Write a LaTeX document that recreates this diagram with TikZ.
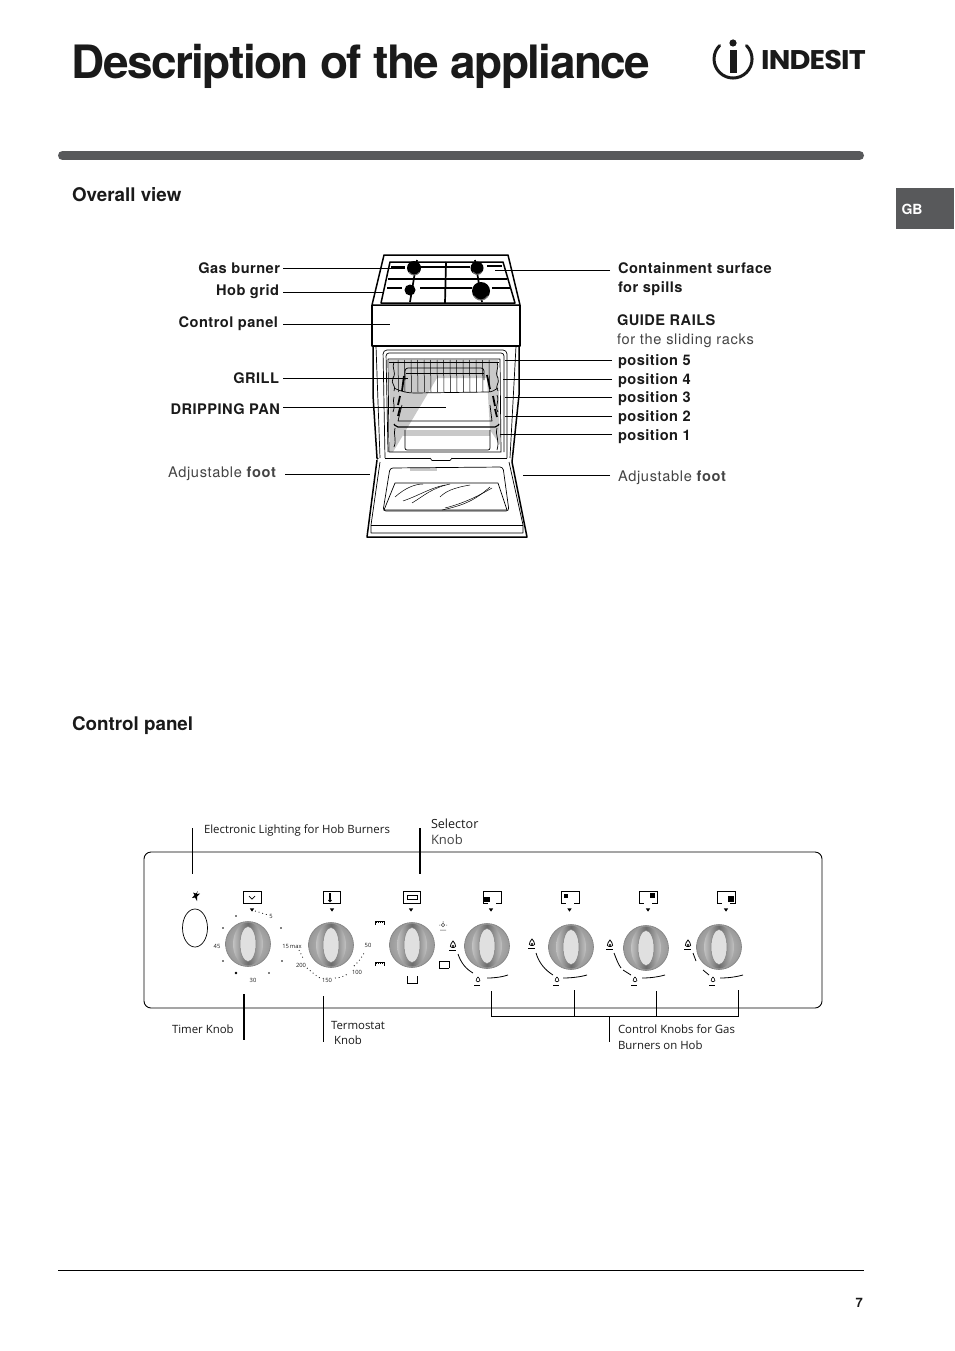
\documentclass[tikz,border=0pt]{standalone}
\usepackage{fontspec}
\setmainfont{TeX Gyre Heros}
\newfontfamily\titlefont[LetterSpace=-3.35]{TeX Gyre Heros}
\newfontfamily\lblfont[LetterSpace=3.3]{TeX Gyre Heros}
\newfontfamily\litefont[LetterSpace=4.6]{TeX Gyre Heros}
\newfontfamily\panelfont{Open Sans}
\newfontfamily\logofont{Poppins}
\definecolor{barg}{HTML}{58595B}
\definecolor{txt}{HTML}{1A1A1A}
\definecolor{lite}{HTML}{444444}
\definecolor{ovg}{HTML}{C9C9C9}
\tikzset{
  lbl/.style={inner xsep=0pt,inner ysep=0pt,outer sep=0pt,font=\lblfont\fontsize{14.6}{14}\selectfont\bfseries,text=txt,text height=10pt,text depth=0pt},
  lite lbl/.style={inner xsep=0pt,inner ysep=0pt,outer sep=0pt,font=\litefont\fontsize{14.6}{14}\selectfont,text=lite,text height=10pt,text depth=0pt},
  head/.style={inner sep=0pt,outer sep=0pt,anchor=base west,font=\fontsize{18.8}{19}\selectfont\bfseries,text=txt},
  pnl/.style={inner sep=0pt,outer sep=0pt,anchor=base west,font=\panelfont\fontsize{11.4}{12}\selectfont,text=txt},
  tick/.style={inner sep=0pt,outer sep=0pt,font=\panelfont\fontsize{5.8}{6}\selectfont,text=txt},
  leader/.style={draw=black,line width=0.8pt},
  thickleader/.style={draw=black,line width=2pt},
  cook/.style={draw=black,line width=0.7pt,line join=round},
  cookb/.style={draw=black,line width=1.5pt,line join=round},
  grate/.style={draw=black,line width=1.7pt},
  wire/.style={draw=black,line width=0.5pt},
  ico/.style={draw=black,line width=0.7pt},
  dots/.style={draw=black,line width=0.8pt,dash pattern=on 0.8pt off 3pt},
}
\newcommand{\knobat}[2]{%
  \begin{scope}[shift={(#1,#2)}]
    \shade[inner color=black!22,outer color=black!40] (0,0) circle[radius=22.5pt];
    \draw[black!50,line width=0.6pt] (0,0) circle[radius=22.5pt];
    \shade[left color=black!24,right color=black!24,middle color=black!58] (0,0) ellipse[x radius=15pt,y radius=21.5pt];
    \fill[black!12] (0,0) ellipse[x radius=8pt,y radius=17.5pt];
    \draw[black!50,line width=0.5pt] (0,0) ellipse[x radius=8pt,y radius=17.5pt];
  \end{scope}}
\newcommand{\marker}[2]{\fill[black] (#1-2.2,#2-1.6) -- (#1+2.2,#2-1.6) -- (#1,#2+1.6) -- cycle;}
\newcommand{\iconbox}[6]{% x y squarex squarey
  \begin{scope}[shift={(#1,#2)}]
    \draw[ico] (0,12) -- (0,0) -- (18,0) -- (18,12) -- (13,12);
    \draw[ico] (0,12) -- (5,12);
    \fill[black] (#3,#4) rectangle ++(#5,#6);
  \end{scope}}
\newcommand{\flamebig}[2]{%
  \begin{scope}[shift={(#1,#2)}]
    \draw[line width=0.8pt] (0,-4) .. controls (1,-2) and (3,-1) .. (2.6,1.2) .. controls (2.2,3) and (-2.2,3) .. (-2.6,1.2) .. controls (-3,-1) and (-1,-2) .. (0,-4) -- cycle;
    \fill (0,1) circle[radius=1.1pt];
    \draw[line width=0.8pt] (-4,5.5) -- (3,5.5);
  \end{scope}}
\newcommand{\flamesmall}[2]{%
  \begin{scope}[shift={(#1,#2)}]
    \draw[line width=0.6pt] (0,-3) .. controls (1,-1.5) and (2.2,-1) .. (1.9,0.8) .. controls (1.6,2.2) and (-1.6,2.2) .. (-1.9,0.8) .. controls (-2.2,-1) and (-1,-1.5) .. (0,-3) -- cycle;
    \draw[line width=0.8pt] (-4,5) -- (2,5);
  \end{scope}}
\begin{document}
\begin{tikzpicture}[x=1pt,y=-1pt]
\useasboundingbox (0,0) rectangle (954,1351);
\fill[white] (0,0) rectangle (954,1351);

% header
\node[inner sep=0pt,outer sep=0pt,anchor=base west,font=\titlefont\fontsize{46}{46}\selectfont\bfseries,text=txt] (title) at (71.5,79) {Description of the appliance};
\draw[barg,line width=9pt,line cap=round] (62.5,155.5) -- (859.5,155.5);
\fill[barg] (896,188) rectangle (954,229);
\node[inner sep=0pt,font=\fontsize{14}{14}\selectfont\bfseries,text=white] (gb) at (912,209) {GB};
\draw[black,line width=0.8pt] (58,1270.5) -- (864,1270.5);
\node[inner sep=0pt,anchor=base east,font=\fontsize{13}{13}\selectfont\bfseries,text=txt] (page) at (863,1307) {7};

% logo
\draw[txt,line width=3pt,line cap=round] (719.6,45.6) arc[start angle=135,end angle=405,radius=19pt];
\fill[txt] (733,43) circle[radius=3.6pt];
\fill[txt] (730,50) rectangle (736.5,73);
\node[inner sep=0pt,anchor=west,font=\logofont\fontsize{27}{27}\selectfont\bfseries,text=txt,xscale=1.065] (logo) at (761,59.5) {\addfontfeature{LetterSpace=-3}INDESIT};

\node[head] (ov) at (72,201) {Overall view};
\node[head] (cp) at (72,730) {Control panel};

% ---------- cooker ----------
% oven grey shading
\fill[ovg] (389,360) -- (498,360) -- (500,445) -- (490,430) -- (487,378) -- (437,378) -- (393,452) -- (390,452) -- cycle;
\fill[ovg] (403,430) rectangle (490,436);
\fill[ovg] (410,468) rectangle (437,471);

% hob
\draw[cookb] (384,255) -- (508,255) -- (520,305) -- (372,305) -- cycle;
\draw[cookb] (390,262) -- (503,262) -- (515,303) -- (381,303) -- cycle;
\draw[grate] (391,267) -- (405,267);
\draw[grate] (418,267) -- (470,267);
\draw[grate] (487,266) -- (502,266);
\draw[grate] (388,279) -- (507,279);
\draw[grate] (387,288) -- (402,288);
\draw[grate] (420,288) -- (472,288);
\draw[grate] (492,288) -- (510,288);
\draw[grate] (446,262) -- (445,303);
\draw[grate] (417,260) -- (410,302);
\draw[grate] (475,260) -- (482,302);
\fill[black] (414,268) circle[radius=7pt];
\fill[black] (477,268) circle[radius=6.5pt];
\fill[black] (410,290) circle[radius=5.5pt];
\fill[black] (481,291) circle[radius=9pt];
\draw[black!55,line width=0.9pt] (409,272) arc[start angle=210,end angle=330,radius=6pt];
\draw[black!55,line width=0.9pt] (473,272) arc[start angle=210,end angle=330,radius=5pt];
\draw[black!55,line width=1.1pt] (474,296) arc[start angle=210,end angle=330,radius=8pt];

% panel
\draw[cookb] (372,305) -- (372,346) -- (520,346) -- (520,305);
\draw[cookb] (373,346) -- (373,395) -- (377,458) -- (378,459);
\draw[cookb] (519,346) -- (519,395) -- (512,462);
\draw[cook] (376,346) -- (380,458);
\draw[cook] (516,346) -- (510,458);
% oven frame
\draw[cook,rounded corners=4pt] (385,458) -- (383,350) -- (507,350) -- (507,458);
\draw[cook,rounded corners=3pt] (388,452) -- (386,353) -- (504,353) -- (504,452);
\draw[cook] (389,452) -- (388,359) -- (500,359) -- (501,452) -- cycle;
\draw[cook] (385,458) -- (430,458) (507,458) -- (452,458);
\draw[cook] (430,458) -- (432,460.5) -- (450,460.5) -- (452,458);
% grill
\draw[cook] (389,362) -- (499,362);
\draw[cook,rounded corners=3pt] (405,380) -- (405,368) -- (484,368) -- (484,380);
\draw[cook] (406,373) -- (484,373);
\draw[cook] (394,388) .. controls (402,392) and (408,393) .. (415,393) -- (488,392) .. controls (492,392) and (495,390) .. (498,388);
\foreach \vx in {398,404.5,411,417.5,424,430.5,437,443.5,450,456.5,463,469.5,476,482.5,489}{
  \draw[wire] (\vx,360) -- (\vx+0.5,392);
}
\draw[line width=1.8pt] (404,376) -- (402,391);
\draw[line width=1.8pt] (400,396) -- (398,405);
\draw[line width=1.8pt] (400,408) -- (398,416);
\draw[line width=1.8pt] (487,375) -- (490,389);
\draw[line width=1.8pt] (493,396) -- (495,406);
\draw[line width=1.8pt] (495,409) -- (497,417);
\draw[cook] (394,362) .. controls (391,368) and (397,372) .. (393,378) .. controls (390,384) and (397,386) .. (394,391);
\draw[cook] (497,362) .. controls (500,368) and (494,372) .. (498,378) .. controls (500,384) and (494,386) .. (498,391);
\draw[cook] (394,397) .. controls (392,402) and (396,406) .. (393,412);
\draw[cook] (497,395) .. controls (500,402) and (494,406) .. (498,412);
% dripping pan
\draw[cook] (402,405) -- (398,421) -- (492,421) -- (490,405);
\draw[cook,line width=1.2pt,rounded corners=2pt] (394,424) -- (396,427) -- (497,427) -- (499,424);
% lower rack
\draw[cook,rounded corners=2pt] (405,430) -- (405,450) -- (490,450) -- (490,430);
\draw[cook] (497,428) .. controls (495,436) and (500,440) .. (497,450);
\draw[cook] (395,428) .. controls (393,434) and (397,440) .. (394,447);

% door
\draw[cookb] (377,460) -- (367,537) -- (527,537) -- (512,462);
\draw[cook] (380,462) -- (371,525) -- (371,533) -- (523,533) -- (523,525) -- (509,462);
\draw[cook] (371,525) -- (523,525);
\draw[cook,rounded corners=3pt] (390,468) -- (503,467) -- (509,511) -- (383,511) -- cycle;
\draw[cook] (395,483) -- (498,483) -- (507,510) -- (384,510) -- cycle;
\draw[wire] (395,497) .. controls (405,488) and (415,484) .. (423,484);
\draw[wire] (403,501) .. controls (420,495) and (430,488) .. (445,485);
\draw[wire] (412,503) .. controls (425,495) and (432,488) .. (450,484);
\draw[wire] (440,497) .. controls (445,492) and (452,488) .. (470,485);
\draw[wire] (445,508) .. controls (465,503) and (480,495) .. (492,488);
\draw[wire] (442,510) .. controls (465,505) and (475,500) .. (490,487);

% coords for hob leaders
\coordinate (gasT) at (405,268);
\coordinate (gridT) at (384,292);
\coordinate (panelT) at (390,324);
\coordinate (grillT) at (408,378);
\coordinate (panT) at (446,407);
\coordinate (footLT) at (370,474);
\coordinate (contT) at (495,270);
\coordinate (contL) at (610,270);
\coordinate (p5T) at (505,360);
\coordinate (p4T) at (503,379);
\coordinate (p3T) at (505,397);
\coordinate (p2T) at (505,416);
\coordinate (p1T) at (500,434);
\coordinate (footRT) at (523,475);
\coordinate (footRL) at (610,475);
\coordinate (footLL) at (285,474);

\node[lbl,anchor=east] (gas) at (280,268) {Gas burner};
\node[lbl,anchor=east] (grid) at (279,290) {Hob grid};
\node[lbl,anchor=east] (panel) at (278,322) {Control panel};
\node[lbl,anchor=east] (grill) at (279,378) {GRILL};
\node[lbl,anchor=east] (pan) at (280,409) {DRIPPING PAN};
\node[lite lbl,anchor=west] (footL) at (168,472) {Adjustable {\bfseries foot}};
\node[lbl,anchor=west] (cont) at (618,268) {Containment surface};
\node[lbl,anchor=west] (spill) at (618,287) {for spills};
\node[lbl,anchor=west] (guide) at (617,320) {GUIDE RAILS};
\node[lite lbl,anchor=west] (rack) at (617,339) {for the sliding racks};
\node[lbl,anchor=west] (p5) at (618,360) {position 5};
\node[lbl,anchor=west] (p4) at (618,379) {position 4};
\node[lbl,anchor=west] (p3) at (618,397) {position 3};
\node[lbl,anchor=west] (p2) at (618,416) {position 2};
\node[lbl,anchor=west] (p1) at (618,435) {position 1};
\node[lite lbl,anchor=west] (footR) at (618,476) {Adjustable {\bfseries foot}};

\draw[leader] ([xshift=3pt]gas.east) -- (gasT);
\draw[leader] ([xshift=4pt,yshift=-2pt]grid.east) -- (gridT);
\draw[leader] ([xshift=5pt,yshift=-2pt]panel.east) -- (panelT);
\draw[leader] ([xshift=4pt]grill.east) -- (grillT);
\draw[leader] ([xshift=3pt,yshift=2pt]pan.east) -- (panT);
\draw[leader] (footLL) -- (footLT);
\draw[leader] (contL) -- (contT);
\draw[leader] ([xshift=-6pt]p5.west) -- (p5T);
\draw[leader] ([xshift=-6pt]p4.west) -- (p4T);
\draw[leader] ([xshift=-6pt]p3.west) -- (p3T);
\draw[leader] ([xshift=-6pt]p2.west) -- (p2T);
\draw[leader] ([xshift=-6pt,yshift=1pt]p1.west) -- (p1T);
\draw[leader] (footRL) -- (footRT);

% ---------- control panel ----------
\draw[black,line width=0.9pt,rounded corners=7pt] (144,852) rectangle (822,1008);
\foreach \kx/\ky in {248/944,331/945,412/945,487/946,571/947,646/948,719/947}{\knobat{\kx}{\ky}}

% ignition
\draw[black,line width=0.7pt] (195,928) ellipse[x radius=12.5pt,y radius=19pt];
\fill[black] (198,891) -- (196.5,894) -- (200,893.5) -- (197,896.5) -- (197,901) -- (195,897.5) -- (192,898) -- (194.5,895) -- (193,892.5) -- (196,893.5) -- cycle;

% top icons
\draw[ico] (243,891) -- (261,891) -- (261,903) -- (243,903) -- cycle;
\draw[ico] (249,896) -- (252,899) -- (255,896);
\draw[ico] (323,891) -- (340,891) -- (340,903) -- (323,903) -- cycle;
\fill[black] (329,893) rectangle (331,899);
\fill[black] (330,900.5) circle[radius=1.8pt];
\draw[line width=0.8pt] (403.5,891) rectangle (420,903);
\draw[line width=0.8pt] (407,895) rectangle (417,899.5);
\iconbox{483}{891}{1}{5.5}{6}{5.5}
\iconbox{561}{891}{3}{2.5}{4}{4}
\iconbox{639}{891}{11}{2}{5}{4.5}
\iconbox{717}{891}{11}{5}{5.5}{5.5}
\marker{252}{910}\marker{332}{910}\marker{411}{910}\marker{491}{910}\marker{569.5}{910}\marker{648}{910}\marker{726}{910}

% timer scale
\draw[dots] (255,911) -- (268,915);
\foreach \dx/\dy in {236/916,223/928,223/961,269/973,282/961,281/928}{\fill (\dx,\dy) circle[radius=0.8pt];}
\fill (236,973) circle[radius=1.3pt];
\node[tick] (t5) at (271,916) {5};
\node[tick] (t45) at (217,946) {45};
\node[tick] (t30) at (253,980) {30};
% thermostat scale
\node[tick] (th15) at (292,946) {15\,max};
\node[tick] (th200) at (301,965.5) {200};
\node[tick] (th150) at (327,980) {150};
\node[tick] (th100) at (357,972) {100};
\node[tick] (th50) at (368,945) {50};
\draw[dots] (299,950) -- (304,960);
\draw[dots] (307,968) .. controls (312,972) and (316,976) .. (320,978);
\draw[dots] (335,978) .. controls (340,978) and (345,976) .. (349,973);
\draw[dots] (354,966) .. controls (358,962) and (362,958) .. (365,951);
% selector symbols
\draw[ico] (375,925) -- (375,921) -- (384,921) -- (384,925);
\draw[ico,dash pattern=on 1pt off 1pt] (376,922.5) -- (383,922.5);
\draw[ico] (375,966) -- (375,962) -- (384,962) -- (384,966);
\draw[ico,dash pattern=on 1pt off 1pt] (376,963.5) -- (383,963.5);
\draw[ico] (407,976) -- (407,983) -- (417,983) -- (417,976);
\draw[ico] (439,961) -- (449,961) (439,968) -- (449,968) (439,961) -- (439,968) (449,961) -- (449,968);
\draw[black!70,line width=0.5pt] (443,925) circle[radius=1.8pt] (440,930) -- (446,930) (443,921) -- (443,922.5) (439,925) -- (440,925) (446,925) -- (447,925);

% burner symbols
\flamebig{453}{945}\flamesmall{478}{980}
\flamebig{532}{943}\flamesmall{557}{980}
\flamebig{610}{944}\flamesmall{635}{980}
\flamebig{688}{944}\flamesmall{713}{980}
\draw[line width=0.8pt] (458,954) .. controls (461,963) and (466,969) .. (473,973);
\draw[line width=0.8pt] (487,978) .. controls (495,978) and (502,977) .. (508,975);
\draw[line width=0.8pt] (536,953) .. controls (539,963) and (545,970) .. (553,975);
\draw[line width=0.8pt] (563,978) .. controls (571,978) and (580,977) .. (587,975);
\draw[line width=0.8pt] (614,953) .. controls (616,958) and (618,964) .. (621,968);
\draw[line width=0.8pt] (623,970) -- (631,975);
\draw[line width=0.8pt] (642,978) .. controls (650,978) and (658,977) .. (665,975);
\draw[line width=0.8pt] (693,953) -- (696,961);
\draw[line width=0.8pt] (703,970) -- (709,975);
\draw[line width=0.8pt] (720,978) .. controls (728,978) and (736,977) .. (743,975);

% panel labels
\node[pnl] (el) at (204,833) {Electronic Lighting for Hob Burners};
\node[pnl,font=\panelfont\fontsize{12.6}{13}\selectfont] (sel) at (431,828) {Selector};
\node[pnl,font=\panelfont\fontsize{13}{13}\selectfont,text=lite] (selk) at (431,844) {Knob};
\node[pnl] (tim) at (172,1033) {Timer Knob};
\node[pnl] (ter) at (331,1029) {Termostat};
\node[pnl] (terk) at (334,1044) {Knob};
\node[pnl] (ctl) at (618,1033) {Control Knobs for Gas};
\node[pnl] (bur) at (618,1049) {Burners on Hob};

\coordinate (elA) at (192,828); \coordinate (elB) at (192,874);
\coordinate (selA) at (420,828); \coordinate (selB) at (420,874);
\coordinate (timA) at (244,994); \coordinate (timB) at (244,1040);
\coordinate (terA) at (323,996); \coordinate (terB) at (323,1042);
\coordinate (b1) at (491,991); \coordinate (b2) at (574,990);
\coordinate (b3) at (656,991); \coordinate (b4) at (738,990);
\coordinate (j1) at (491,1016); \coordinate (j2) at (574,1016);
\coordinate (j3) at (656,1016); \coordinate (j4) at (738,1016);
\coordinate (dropA) at (609,1016); \coordinate (dropB) at (609,1042);
\draw[leader] (elA) -- (elB);
\draw[thickleader] (selA) -- (selB);
\draw[thickleader] (timA) -- (timB);
\draw[leader] (terA) -- (terB);
\draw[leader] (b1) -- (j1) -- (j2) -- (j3) -- (j4) -- (b4);
\draw[leader] (b2) -- (j2);
\draw[leader] (b3) -- (j3);
\draw[leader] (dropA) -- (dropB);
\end{tikzpicture}
\end{document}
